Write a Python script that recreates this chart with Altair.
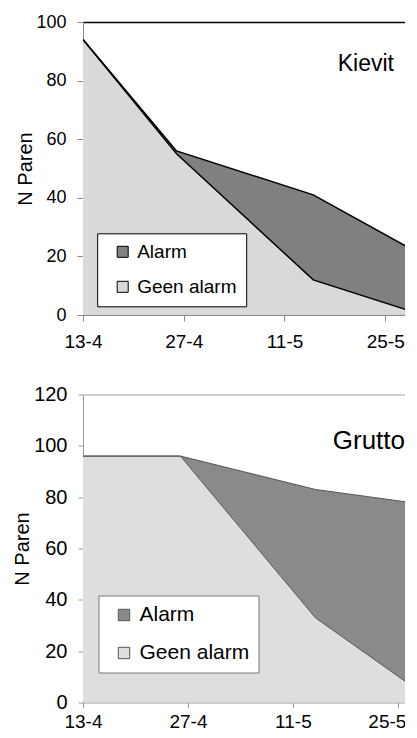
import altair as alt
import pandas as pd

# ---- data ----
series_names = ["Alarm", "Geen alarm"]
tick_dates = ["2013-04-13", "2013-04-27", "2013-05-11", "2013-05-25"]

kievit_dates = ["2013-04-13", "2013-04-26", "2013-05-15", "2013-05-29"]
kievit_geen = [94, 55, 12, 1]
kievit_alarm = [0, 1, 29, 21]

grutto_dates = ["2013-04-13", "2013-04-26", "2013-05-14", "2013-05-29"]
grutto_geen = [96, 96, 33, 2]
grutto_alarm = [0, 0, 50, 75]

FONT = "Liberation Sans"


def dt(s, hours=0):
    y, m, d = (int(v) for v in s.split("-"))
    return alt.DateTime(year=y, month=m, date=d, hours=hours, utc=True)


def panel(name, dates, geen, alarm, ymax, st):
    long = pd.DataFrame({
        "date": dates * 2,
        "series": ["Geen alarm"] * len(dates) + ["Alarm"] * len(dates),
        "value": geen + alarm,
        "ord": [0] * len(dates) + [1] * len(dates),
    })
    wide = pd.DataFrame({"date": dates, "geen": geen, "alarm": alarm})
    label_df = pd.DataFrame({"label": [name]})

    xscale = alt.Scale(type="utc", domain=[dt(dates[0]), st["xend"]])
    extra = {}
    if st.get("lastfit"):
        extra = dict(
            labelAlign={"condition": {"test": "datum.index === 1", "value": "right"},
                        "value": "center"},
            labelOffset={"condition": {"test": "datum.index === 1", "value": st["lastfit"]},
                         "value": 0},
        )
    xaxis = alt.Axis(orient="bottom", values=[dt(t) for t in tick_dates], format="%-d-%-m",
                     grid=False, tickSize=st["tick"], tickColor=st["axis"],
                     domainColor=st["axis"], labelFontSize=st["xlab"],
                     labelPadding=st["xlp"], labelFlush=False, labelOverlap=False,
                     labelAngle=0, labelColor="black", title=None, **extra)
    yscale = alt.Scale(domain=[0, ymax], nice=False)
    yaxis = alt.Axis(values=list(range(0, ymax + 1, 20)), grid=False,
                     tickSize=st["tick"], tickColor=st["axis"], domainColor=st["axis"],
                     labelFontSize=st["ylab"], labelPadding=st["ylp"], labelColor="black",
                     title="N Paren", titleFontSize=st["ytitle"], titleFontWeight="normal",
                     titlePadding=st["ytp"], titleColor="black")

    area = alt.Chart(long).mark_area(opacity=1, clip=True).encode(
        x=alt.X("date:T", scale=xscale, axis=xaxis),
        y=alt.Y("value:Q", stack="zero", scale=yscale, axis=yaxis),
        color=alt.Color("series:N",
                        scale=alt.Scale(domain=series_names, range=[st["dark"], st["light"]]),
                        legend=alt.Legend(orient="none", legendX=st["lx"], legendY=st["ly"],
                                          title=None, fillColor="white",
                                          strokeColor=st["lstroke"], padding=st["lpad"],
                                          symbolType="square", symbolSize=st["ssize"],
                                          symbolStrokeColor=st["sstroke"], symbolStrokeWidth=1,
                                          symbolOpacity=1, symbolOffset=st["soff"],
                                          labelFontSize=st["llab"], labelFont=FONT,
                                          labelColor="black", labelOffset=5,
                                          rowPadding=st["rowpad"])),
        order=alt.Order("ord:Q", sort="ascending"),
    )

    lines = alt.Chart(wide).transform_calculate(
        total="datum.geen + datum.alarm"
    ).transform_fold(["geen", "total"], as_=["key", "v"]).mark_line(
        color=st["line"], strokeWidth=st["lw"], clip=True
    ).encode(
        x=alt.X("date:T", scale=xscale, axis=None),
        y=alt.Y("v:Q", scale=yscale, axis=yaxis),
        detail="key:N",
    )

    label = alt.Chart(label_df).mark_text(
        align="right", baseline="alphabetic", fontSize=st["tsize"], font=FONT, color="black"
    ).encode(x=alt.value(st["tx"]), y=alt.value(st["ty"]), text="label:N")

    topaxis = alt.Chart(wide).mark_point(opacity=0, clip=True, size=1).encode(
        x=alt.X("date:T", scale=xscale,
                axis=alt.Axis(orient="top", labels=False, ticks=False, grid=False,
                              domainColor=st["topc"], domainWidth=st["topw"], title=None)),
        y=alt.Y("geen:Q", scale=yscale, axis=yaxis),
    )

    return alt.layer(area, lines, label, topaxis).properties(
        width=st["w"], height=st["h"],
        view=alt.ViewBackground(stroke=st["frame"], strokeWidth=1),
    ).resolve_axis(x="independent")


top_style = dict(w=331, h=293, xend=dt("2013-05-29"), tick=6, axis="#888888", xlab=19,
                 xlp=11, ylab=18, ylp=11, ytitle=20, ytp=0, dark="#808080",
                 light="#d9d9d9", lx=14.2, ly=211.3, lstroke="black", lpad=9, ssize=121,
                 sstroke="black", soff=7, llab=19, rowpad=15, line="black", lw=1.5,
                 tsize=23, tx=311, ty=49, frame="#d0d0d0", topc="black", topw=1.6)
bot_style = dict(w=330.5, h=308, xend=dt("2013-05-27", hours=2), tick=5, axis="#999999",
                 xlab=19, xlp=5, ylab=20, ylp=11, ytitle=20, ytp=1.5, dark="#8a8a8a",
                 light="#dedede", lx=15.5, ly=201, lstroke="#777777", lpad=9, ssize=130,
                 sstroke="#555555", soff=6, llab=21, rowpad=16, line="#555555", lw=1,
                 tsize=26, tx=322, ty=54, frame=None, topc="#bfbfbf", topw=1.5,
                 lastfit=8)

top = panel("Kievit", kievit_dates, kievit_geen, kievit_alarm, 100, top_style)
bottom = panel("Grutto", grutto_dates, grutto_geen, grutto_alarm, 120, bot_style)

chart = alt.vconcat(top, bottom, spacing=32.5).resolve_scale(
    color="independent"
).resolve_legend(color="independent").properties(
    padding={"left": 4, "top": 4, "right": -10, "bottom": 0}
).configure(font=FONT).configure_axis(labelFont=FONT, titleFont=FONT)

chart.save("out.html", embed_options={"renderer": "svg", "actions": False})
